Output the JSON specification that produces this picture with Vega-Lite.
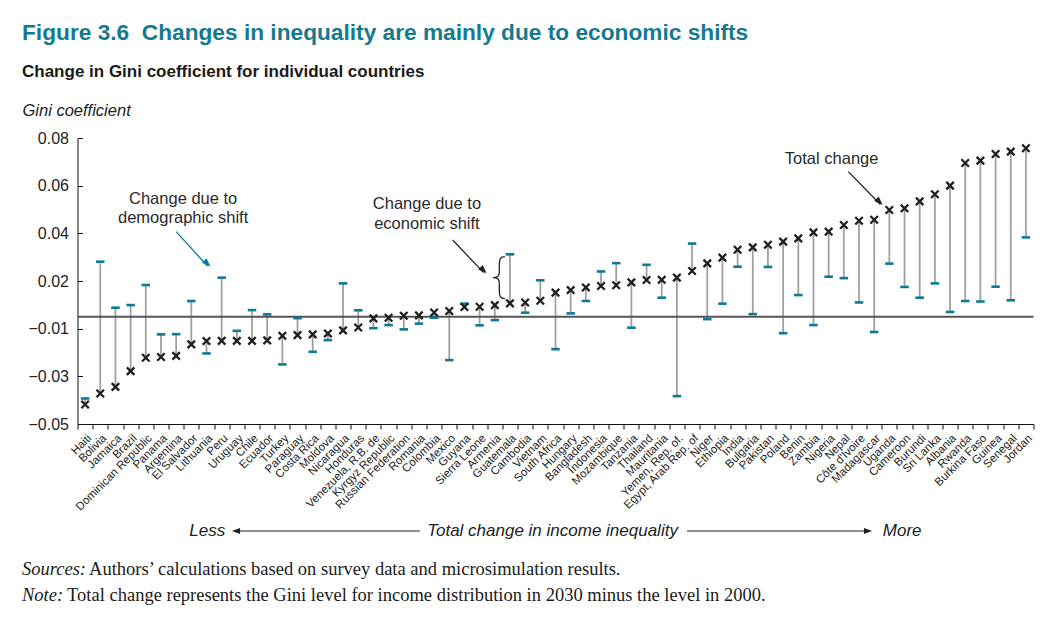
{
  "$schema": "https://vega.github.io/schema/vega-lite/v6.json",
  "autosize": {"type": "none"},
  "padding": {"left": 77.5, "top": 138, "right": 20.5, "bottom": 201},
  "width": 956,
  "height": 286,
  "background": "white",
  "config": {"view": {"stroke": null}},
  "title": {
    "text": "Figure 3.6\u00a0\u00a0Changes in inequality are mainly due to economic shifts",
    "subtitle": "Change in Gini coefficient for individual countries",
    "anchor": "start", "frame": "group", "dx": -55.5, "offset": 22,
    "font": "Liberation Sans", "fontSize": 22.7, "fontWeight": "bold", "color": "#157a8e",
    "subtitleFont": "Liberation Sans", "subtitleFontSize": 17, "subtitleFontWeight": "bold",
    "subtitleColor": "#1a1a1a", "subtitlePadding": 19
  },
  "data": {"values": [
    {"country": "Haiti", "total": -0.0368, "demo": -0.0343},
    {"country": "Bolivia", "total": -0.0322, "demo": 0.0231},
    {"country": "Jamaica", "total": -0.0294, "demo": 0.0038},
    {"country": "Brazil", "total": -0.0228, "demo": 0.0049},
    {"country": "Dominican Republic", "total": -0.0172, "demo": 0.0133},
    {"country": "Panama", "total": -0.0169, "demo": -0.0074},
    {"country": "Argentina", "total": -0.0164, "demo": -0.0073},
    {"country": "El Salvador", "total": -0.0116, "demo": 0.0066},
    {"country": "Lithuania", "total": -0.0102, "demo": -0.0154},
    {"country": "Peru", "total": -0.0101, "demo": 0.0164},
    {"country": "Uruguay", "total": -0.0101, "demo": -0.0059},
    {"country": "Chile", "total": -0.0101, "demo": 0.0028},
    {"country": "Ecuador", "total": -0.0099, "demo": 0.0010},
    {"country": "Turkey", "total": -0.0080, "demo": -0.0200},
    {"country": "Paraguay", "total": -0.0077, "demo": -0.0006},
    {"country": "Costa Rica", "total": -0.0074, "demo": -0.0147},
    {"country": "Moldova", "total": -0.0070, "demo": -0.0098},
    {"country": "Nicaragua", "total": -0.0057, "demo": 0.0140},
    {"country": "Honduras", "total": -0.0045, "demo": 0.0027},
    {"country": "Venezuela, R.B. de", "total": -0.0007, "demo": -0.0048},
    {"country": "Kyrgyz Republic", "total": -0.0004, "demo": -0.0035},
    {"country": "Russian Federation", "total": 0.0004, "demo": -0.0053},
    {"country": "Romania", "total": 0.0006, "demo": -0.0029},
    {"country": "Colombia", "total": 0.0018, "demo": -0.0004},
    {"country": "Mexico", "total": 0.0024, "demo": -0.0182},
    {"country": "Guyana", "total": 0.0041, "demo": 0.0055},
    {"country": "Sierra Leone", "total": 0.0042, "demo": -0.0036},
    {"country": "Armenia", "total": 0.0049, "demo": -0.0014},
    {"country": "Guatemala", "total": 0.0056, "demo": 0.0262},
    {"country": "Cambodia", "total": 0.0060, "demo": 0.0017},
    {"country": "Vietnam", "total": 0.0067, "demo": 0.0153},
    {"country": "South Africa", "total": 0.0101, "demo": -0.0136},
    {"country": "Hungary", "total": 0.0112, "demo": 0.0014},
    {"country": "Bangladesh", "total": 0.0123, "demo": 0.0066},
    {"country": "Indonesia", "total": 0.0129, "demo": 0.0190},
    {"country": "Mozambique", "total": 0.0132, "demo": 0.0225},
    {"country": "Tanzania", "total": 0.0144, "demo": -0.0046},
    {"country": "Thailand", "total": 0.0154, "demo": 0.0218},
    {"country": "Mauritania", "total": 0.0155, "demo": 0.0080},
    {"country": "Yemen, Rep. of.", "total": 0.0164, "demo": -0.0333},
    {"country": "Egypt, Arab Rep. of", "total": 0.0192, "demo": 0.0307},
    {"country": "Niger", "total": 0.0224, "demo": -0.0010},
    {"country": "Ethiopia", "total": 0.0248, "demo": 0.0055},
    {"country": "India", "total": 0.0281, "demo": 0.0210},
    {"country": "Bulgaria", "total": 0.0291, "demo": 0.0011},
    {"country": "Pakistan", "total": 0.0302, "demo": 0.0209},
    {"country": "Poland", "total": 0.0315, "demo": -0.0069},
    {"country": "Benin", "total": 0.0329, "demo": 0.0091},
    {"country": "Zambia", "total": 0.0354, "demo": -0.0035},
    {"country": "Nigeria", "total": 0.0357, "demo": 0.0168},
    {"country": "Nepal", "total": 0.0385, "demo": 0.0162},
    {"country": "Côte d'Ivoire", "total": 0.0403, "demo": 0.0060},
    {"country": "Madagascar", "total": 0.0407, "demo": -0.0064},
    {"country": "Uganda", "total": 0.0448, "demo": 0.0223},
    {"country": "Cameroon", "total": 0.0455, "demo": 0.0125},
    {"country": "Burundi", "total": 0.0484, "demo": 0.0080},
    {"country": "Sri Lanka", "total": 0.0514, "demo": 0.0140},
    {"country": "Albania", "total": 0.0550, "demo": 0.0020},
    {"country": "Rwanda", "total": 0.0645, "demo": 0.0066},
    {"country": "Burkina Faso", "total": 0.0655, "demo": 0.0064},
    {"country": "Guinea", "total": 0.0683, "demo": 0.0126},
    {"country": "Senegal", "total": 0.0693, "demo": 0.0069},
    {"country": "Jordan", "total": 0.0707, "demo": 0.0333}
  ]},
  "encoding": {
    "x": {
      "field": "country", "type": "nominal", "sort": null,
      "scale": {"type": "band", "paddingInner": 0, "paddingOuter": 0, "domain": ["Haiti","Bolivia","Jamaica","Brazil","Dominican Republic","Panama","Argentina","El Salvador","Lithuania","Peru","Uruguay","Chile","Ecuador","Turkey","Paraguay","Costa Rica","Moldova","Nicaragua","Honduras","Venezuela, R.B. de","Kyrgyz Republic","Russian Federation","Romania","Colombia","Mexico","Guyana","Sierra Leone","Armenia","Guatemala","Cambodia","Vietnam","South Africa","Hungary","Bangladesh","Indonesia","Mozambique","Tanzania","Thailand","Mauritania","Yemen, Rep. of.","Egypt, Arab Rep. of","Niger","Ethiopia","India","Bulgaria","Pakistan","Poland","Benin","Zambia","Nigeria","Nepal","Côte d'Ivoire","Madagascar","Uganda","Cameroon","Burundi","Sri Lanka","Albania","Rwanda","Burkina Faso","Guinea","Senegal","Jordan"]},
      "axis": {
        "title": null, "labelAngle": -45, "labelFont": "Liberation Sans", "labelFontSize": 11.5,
        "labelColor": "#222", "labelPadding": 3, "labelOverlap": false, "tickBand": "extent",
        "tickSize": 5, "tickColor": "#111", "domainColor": "#111", "grid": false
      }
    },
    "y": {
      "type": "quantitative",
      "scale": {"domain": [-0.045, 0.075], "nice": false, "zero": false},
      "axis": {
        "title": "Gini coefficient", "titleAngle": 0, "titleAlign": "left", "titleBaseline": "alphabetic",
        "titleX": -55.5, "titleY": -23, "titleFont": "Liberation Sans", "titleFontSize": 16.5,
        "titleFontStyle": "italic", "titleFontWeight": "normal", "titleColor": "#222",
        "values": [0.075, 0.055, 0.035, 0.015, -0.005, -0.025, -0.045],
        "labelExpr": "datum.value > 0.07 ? '0.08' : datum.value > 0.05 ? '0.06' : datum.value > 0.03 ? '0.04' : datum.value > 0.01 ? '0.02' : datum.value > -0.01 ? '\u22120.01' : datum.value > -0.03 ? '\u22120.03' : '\u22120.05'",
        "labelFont": "Liberation Sans", "labelFontSize": 16, "labelColor": "#222",
        "tickSize": -5, "labelPadding": 14, "tickColor": "#111", "domainColor": "#111", "grid": false
      }
    }
  },
  "layer": [
    {
      "mark": {"type": "rule", "color": "#a0a0a0", "strokeWidth": 1.8},
      "encoding": {"y": {"field": "demo", "type": "quantitative"}, "y2": {"field": "total"}}
    },
    {
      "data": {"values": [{}]},
      "mark": {"type": "rule", "color": "#555555", "strokeWidth": 1.8},
      "encoding": {"x": null, "y": {"datum": 0, "type": "quantitative"}}
    },
    {
      "mark": {"type": "tick", "color": "#0c7a93", "size": 8.5, "thickness": 2.6, "opacity": 1},
      "encoding": {"y": {"field": "demo", "type": "quantitative"}}
    },
    {
      "mark": {"type": "point", "shape": "M-1,-1L1,1M-1,1L1,-1", "size": 56, "filled": false, "strokeWidth": 2.3, "color": "#1f1f1f", "opacity": 1},
      "encoding": {"y": {"field": "total", "type": "quantitative"}}
    },
    {
      "data": {"values": [{}]},
      "mark": {"type": "text", "text": ["Change due to", "demographic shift"], "font": "Liberation Sans", "fontSize": 16.5, "lineHeight": 19.5, "align": "center", "baseline": "alphabetic", "color": "#2a2a2a", "dx": 7},
      "encoding": {"x": {"datum": "Argentina"}, "y": {"datum": 0.0475}}
    },
    {
      "data": {"values": [{}]},
      "mark": {"type": "rule", "color": "#0c7a93", "strokeWidth": 1.3, "x2Offset": 1},
      "encoding": {"x": {"datum": "Argentina"}, "x2": {"datum": "Lithuania"}, "y": {"datum": 0.0357}, "y2": {"datum": 0.0213}}
    },
    {
      "data": {"values": [{}]},
      "mark": {"type": "point", "shape": "M0,0L-2.2,-0.8L-2.2,0.8Z", "size": 64, "filled": true, "angle": 45, "color": "#0c7a93", "opacity": 1, "xOffset": 4},
      "encoding": {"x": {"datum": "Lithuania"}, "y": {"datum": 0.0210}}
    },
    {
      "data": {"values": [{}]},
      "mark": {"type": "text", "text": ["Change due to", "economic shift"], "font": "Liberation Sans", "fontSize": 16.5, "lineHeight": 20, "align": "center", "baseline": "alphabetic", "color": "#2a2a2a", "dx": 8},
      "encoding": {"x": {"datum": "Romania"}, "y": {"datum": 0.0452}}
    },
    {
      "data": {"values": [{}]},
      "mark": {"type": "rule", "color": "#222", "strokeWidth": 1.3, "xOffset": 3.4, "x2Offset": 4},
      "encoding": {"x": {"datum": "Mexico"}, "x2": {"datum": "Sierra Leone"}, "y": {"datum": 0.0322}, "y2": {"datum": 0.0185}}
    },
    {
      "data": {"values": [{}]},
      "mark": {"type": "point", "shape": "M0,0L-2.2,-0.8L-2.2,0.8Z", "size": 64, "filled": true, "angle": 45, "color": "#222", "opacity": 1, "xOffset": 7},
      "encoding": {"x": {"datum": "Sierra Leone"}, "y": {"datum": 0.0182}}
    },
    {
      "data": {"values": [{}]},
      "mark": {"type": "point", "shape": "M0.9,-3C0.2,-3 0.1,-2.6 0.1,-1.8L0.1,-0.7C0.1,-0.2 -0.2,0 -0.8,0C-0.2,0 0.1,0.2 0.1,0.7L0.1,1.8C0.1,2.6 0.2,3 0.9,3", "size": 196, "filled": false, "strokeWidth": 1.3, "color": "#222", "opacity": 1, "xOffset": 3.8},
      "encoding": {"x": {"datum": "Armenia"}, "y": {"datum": 0.0164}}
    },
    {
      "data": {"values": [{}]},
      "mark": {"type": "text", "text": "Total change", "font": "Liberation Sans", "fontSize": 16.5, "align": "center", "baseline": "alphabetic", "color": "#2a2a2a", "dx": 3},
      "encoding": {"x": {"datum": "Nigeria"}, "y": {"datum": 0.0643}}
    },
    {
      "data": {"values": [{}]},
      "mark": {"type": "rule", "color": "#222", "strokeWidth": 1.3, "xOffset": 4.5, "x2Offset": 6},
      "encoding": {"x": {"datum": "Nepal"}, "x2": {"datum": "Madagascar"}, "y": {"datum": 0.0609}, "y2": {"datum": 0.0472}}
    },
    {
      "data": {"values": [{}]},
      "mark": {"type": "point", "shape": "M0,0L-2.2,-0.8L-2.2,0.8Z", "size": 64, "filled": true, "angle": 45, "color": "#222", "opacity": 1, "xOffset": 8.5},
      "encoding": {"x": {"datum": "Madagascar"}, "y": {"datum": 0.0469}}
    },
    {
      "data": {"values": [{}]},
      "mark": {"type": "text", "text": "Less", "font": "Liberation Sans", "fontSize": 17, "fontStyle": "italic", "align": "right", "baseline": "middle", "color": "#222", "dx": 3.5},
      "encoding": {"x": {"datum": "Peru"}, "y": {"datum": -0.0899}}
    },
    {
      "data": {"values": [{}]},
      "mark": {"type": "rule", "color": "#222", "strokeWidth": 1.2, "xOffset": -3, "x2Offset": 1},
      "encoding": {"x": {"datum": "Uruguay"}, "x2": {"datum": "Romania"}, "y": {"datum": -0.0899}}
    },
    {
      "data": {"values": [{}]},
      "mark": {"type": "point", "shape": "M0,0L-2.2,-0.8L-2.2,0.8Z", "size": 56, "filled": true, "angle": 180, "color": "#222", "opacity": 1, "xOffset": -5},
      "encoding": {"x": {"datum": "Uruguay"}, "y": {"datum": -0.0899}}
    },
    {
      "data": {"values": [{}]},
      "mark": {"type": "text", "text": "Total change in income inequality", "font": "Liberation Sans", "fontSize": 17, "fontStyle": "italic", "align": "center", "baseline": "middle", "color": "#222", "dx": -3},
      "encoding": {"x": {"datum": "South Africa"}, "y": {"datum": -0.0899}}
    },
    {
      "data": {"values": [{}]},
      "mark": {"type": "rule", "color": "#222", "strokeWidth": 1.2, "xOffset": -5, "x2Offset": -4},
      "encoding": {"x": {"datum": "Egypt, Arab Rep. of"}, "x2": {"datum": "Madagascar"}, "y": {"datum": -0.0899}}
    },
    {
      "data": {"values": [{}]},
      "mark": {"type": "point", "shape": "M0,0L-2.2,-0.8L-2.2,0.8Z", "size": 56, "filled": true, "angle": 0, "color": "#222", "opacity": 1, "xOffset": -2},
      "encoding": {"x": {"datum": "Madagascar"}, "y": {"datum": -0.0899}}
    },
    {
      "data": {"values": [{}]},
      "mark": {"type": "text", "text": "More", "font": "Liberation Sans", "fontSize": 17, "fontStyle": "italic", "align": "left", "baseline": "middle", "color": "#222", "dx": -6.5},
      "encoding": {"x": {"datum": "Uganda"}, "y": {"datum": -0.0899}}
    },
    {
      "data": {"values": [{}]},
      "mark": {"type": "text", "text": "Sources:", "font": "Liberation Serif", "fontSize": 18.5, "fontStyle": "italic", "align": "left", "baseline": "alphabetic", "color": "#1a1a1a", "dx": -63.1},
      "encoding": {"x": {"datum": "Haiti"}, "y": {"datum": -0.1084}}
    },
    {
      "data": {"values": [{}]},
      "mark": {"type": "text", "text": "Authors\u2019 calculations based on survey data and microsimulation results.", "font": "Liberation Serif", "fontSize": 18.5, "align": "left", "baseline": "alphabetic", "color": "#1a1a1a", "dx": 4},
      "encoding": {"x": {"datum": "Haiti"}, "y": {"datum": -0.1084}}
    },
    {
      "data": {"values": [{}]},
      "mark": {"type": "text", "text": "Note:", "font": "Liberation Serif", "fontSize": 18.5, "fontStyle": "italic", "align": "left", "baseline": "alphabetic", "color": "#1a1a1a", "dx": -63.1},
      "encoding": {"x": {"datum": "Haiti"}, "y": {"datum": -0.1191}}
    },
    {
      "data": {"values": [{}]},
      "mark": {"type": "text", "text": "Total change represents the Gini level for income distribution in 2030 minus the level in 2000.", "font": "Liberation Serif", "fontSize": 18.5, "align": "left", "baseline": "alphabetic", "color": "#1a1a1a", "dx": -18},
      "encoding": {"x": {"datum": "Haiti"}, "y": {"datum": -0.1191}}
    }
  ]
}
